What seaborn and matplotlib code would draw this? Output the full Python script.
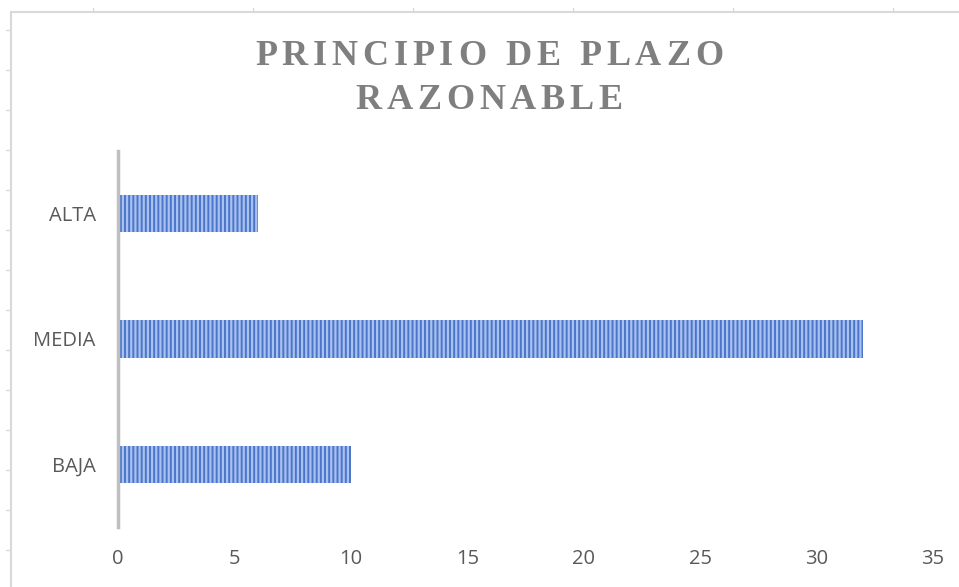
import matplotlib
matplotlib.use("Agg")
import matplotlib.pyplot as plt
import seaborn as sns
import pandas as pd
from matplotlib.lines import Line2D

# data
categories = ["ALTA", "MEDIA", "BAJA"]
values = [6, 32, 10]
x_ticks = [0, 5, 10, 15, 20, 25, 30, 35]
title_lines = ["PRINCIPIO DE PLAZO", "RAZONABLE"]

W, H = 959, 587

sns.set_theme(style="white")
plt.rcParams["font.family"] = ["Open Sans", "DejaVu Sans"]
plt.rcParams["hatch.linewidth"] = 1.6
plt.rcParams["hatch.color"] = "#a9c1ee"

df = pd.DataFrame({"nivel": categories, "cantidad": values})

fig = plt.figure(figsize=(W / 100, H / 100), dpi=100)
ax = fig.add_axes([118 / W, 1 - 527 / H, (933 - 118) / W, (527 - 151) / H])

sns.barplot(data=df, y="nivel", x="cantidad", order=categories, orient="h",
            color="#4a75ca", width=0.3, saturation=1, ax=ax)
for p in ax.patches:
    p.set_hatch("||||")
    p.set_edgecolor("#a9c1ee")
    p.set_linewidth(0)

ax.set_xlim(0, 35)
ax.set_xticks(x_ticks)
ax.set_xlabel("")
ax.set_ylabel("")
ax.tick_params(axis="both", length=0, labelsize=14.5, labelcolor="#595959")
ax.tick_params(axis="x", pad=16)
ax.tick_params(axis="y", pad=16)
for s in ["top", "right", "bottom"]:
    ax.spines[s].set_visible(False)
ax.spines["left"].set_color("#bfbfbf")
ax.spines["left"].set_linewidth(2.5)
ax.grid(False)

# title with letter spacing, drawn char by char
renderer = fig.canvas.get_renderer()
tkw = dict(fontsize=26, fontweight="bold", color="#7f7f7f",
           family=["Liberation Serif", "DejaVu Serif"])
spacing = 4.8
space_w = 9.5
for line, yb in zip(title_lines, [65, 109]):
    widths = []
    for ch in line:
        if ch == " ":
            widths.append(space_w)
            continue
        t = fig.text(0, 0, ch, **tkw)
        widths.append(t.get_window_extent(renderer).width)
        t.remove()
    total = sum(widths) + spacing * (len(line) - 1)
    x = 489 - total / 2
    for ch, w in zip(line, widths):
        if ch != " ":
            fig.text(x / W, 1 - yb / H, ch, ha="left", va="baseline", **tkw)
        x += w + spacing

# faint sheet frame around the chart
frame = "#d9d9d9"
fig.add_artist(Line2D([11 / W, 11 / W], [0, 1 - 12 / H], color=frame, lw=1.5))
fig.add_artist(Line2D([11 / W, 1], [1 - 12 / H, 1 - 12 / H], color=frame, lw=1.5))
for yy in range(30, 587, 40):
    fig.add_artist(Line2D([6 / W, 11 / W], [1 - yy / H, 1 - yy / H], color=frame, lw=1))
for xx in range(93, 959, 160):
    fig.add_artist(Line2D([xx / W, xx / W], [1 - 8 / H, 1 - 12 / H], color=frame, lw=1))

fig.savefig("out.png", dpi=100)
